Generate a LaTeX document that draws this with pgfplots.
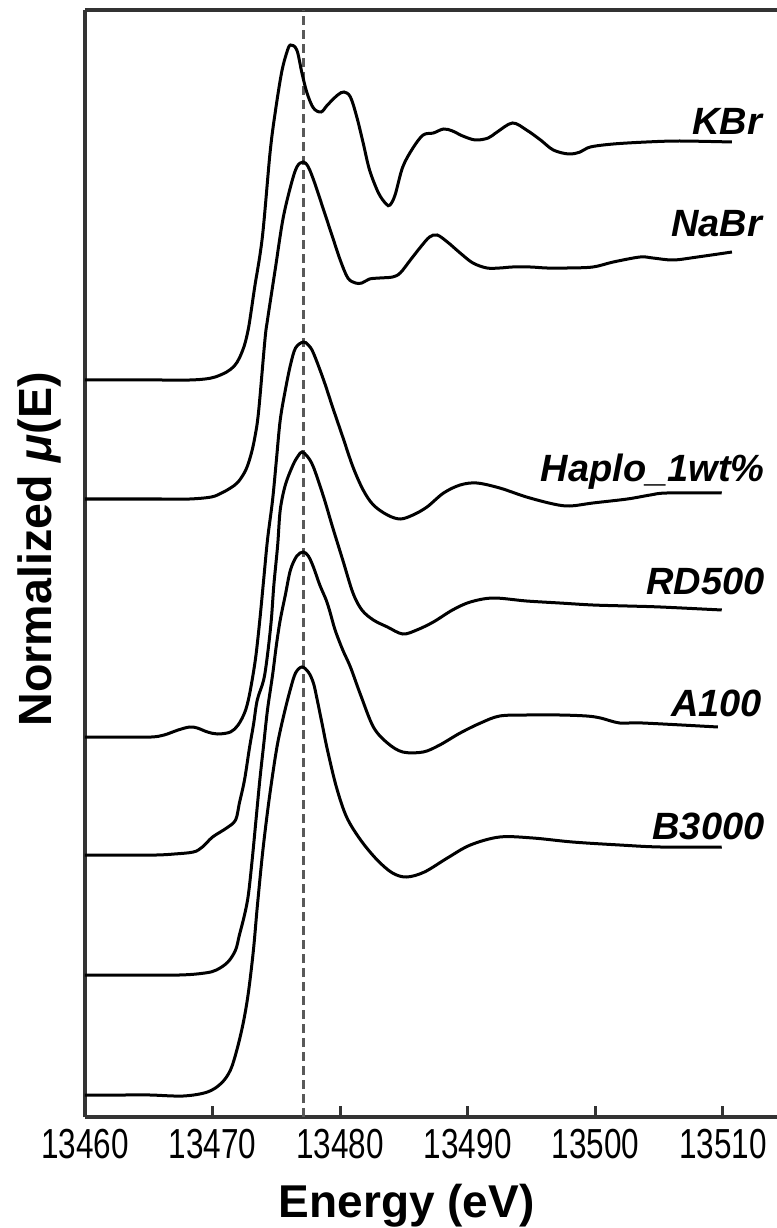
\documentclass[border=0pt]{standalone}
\usepackage{fontspec}
\setmainfont{Liberation Sans}
\newfontfamily\narrow[FakeStretch=0.75]{Liberation Sans}
\usepackage{pgfplots}
\pgfplotsset{compat=1.18}
\pgfplotsset{spec/.style={black, line width=1.5pt, mark=none, smooth, tension=0.55}}

% heights are offsets of the stacked spectra (arbitrary units)
\begin{document}
\begin{tikzpicture}
\path[use as bounding box] (-42.5pt,-55.5pt) rectangle (346pt,558.5pt);
\begin{axis}[
  at={(0,0)}, anchor=south west,
  scale only axis, width=346pt, height=553.5pt,
  xmin=13460, xmax=13514.23, ymin=0, ymax=1107,
  axis x line*=box, axis y line*=left,
  line width=1.6pt,
  axis line style={line width=1.6pt, black!80},
  every outer x axis line/.append style={line width=1.6pt, black!80},
  every outer y axis line/.append style={line width=1.6pt, black!80},
  xtick={13460,13470,...,13510}, xtick pos=bottom, ytick=\empty,
  scaled x ticks=false,
  tick align=inside, major tick length=5.5pt,
  xtick style={line width=1.5pt, black!80},
  major x tick style={line width=1.5pt, black!80},
  /pgf/number format/.cd, set thousands separator={}, assume math mode=true, /pgfplots/.cd,
  xticklabel style={font=\narrow\fontsize{21}{24}\selectfont, inner sep=0pt, yshift=-5.5pt},
  xlabel={Energy (eV)},
  every axis x label/.style={at={(rel axis cs:0.465,-0.0912)}, anchor=base,
    font=\bfseries\fontsize{23}{26}\selectfont},
  ylabel={Normalized \textit{μ}(E)},
  every axis y label/.style={at={(rel axis cs:-0.0665,0.513)}, anchor=center, rotate=90,
    font=\bfseries\fontsize{23.3}{26}\selectfont},
  clip=false,
]
\addplot[black!65, line width=1.3pt, dash pattern=on 4.5pt off 2.5pt, mark=none]
  coordinates {(13477.1,0) (13477.1,1107)};

% KBr
\addplot[spec] coordinates {
(13460.0,737) (13463.0,737) (13466.0,737) (13468.2,737) (13469.4,738) (13470.2,740) (13471.1,745)
(13471.7,751) (13472.1,759) (13472.5,772) (13472.8,788) (13473.0,804) (13473.3,830)
(13473.9,880) (13474.5,964) (13474.9,1004) (13475.4,1044) (13475.8,1064) (13476.1,1072)
(13476.6,1067) (13477.0,1044) (13477.4,1024) (13477.9,1009) (13478.5,1005) (13479.0,1012)
(13479.8,1022) (13480.3,1025) (13480.8,1020) (13481.3,1000) (13481.8,974) (13482.3,947)
(13483.0,924) (13483.6,913) (13483.9,912) (13484.3,922) (13484.9,950) (13485.7,969) (13486.5,982)
(13487.3,984) (13488.1,988) (13488.8,986) (13489.6,981) (13490.6,977) (13491.6,979)
(13492.3,985) (13493.5,994) (13494.6,987) (13495.7,977) (13496.7,967) (13497.9,963)
(13498.8,965) (13499.6,970) (13501.4,973) (13504.0,975) (13506.6,976) (13510.7,975)
};
% NaBr
\addplot[spec] coordinates {
(13460.0,618) (13463.0,618) (13466.0,618) (13468.2,618) (13469.9,620) (13470.7,624) (13471.4,629)
(13472.0,635) (13472.6,647) (13473.0,662) (13473.3,679) (13473.6,705) (13474.1,777) (13474.3,797)
(13474.9,847) (13475.5,897) (13476.1,930) (13476.6,950) (13477.1,955) (13477.5,950)
(13478.0,934) (13478.7,907) (13479.4,880) (13480.0,857) (13480.6,839) (13481.2,834)
(13481.7,834) (13482.3,838) (13483.1,839) (13484.1,840) (13484.7,844) (13485.5,857)
(13486.3,870) (13487.0,880) (13487.6,882) (13488.4,875) (13489.4,864) (13490.4,854)
(13491.5,849) (13492.5,849) (13493.5,850) (13494.9,850) (13496.2,849) (13497.8,849)
(13499.8,850) (13501.4,855) (13503.5,860) (13504.5,859) (13506.1,857) (13508.0,860)
(13510.7,865)
};
% Haplo_1wt%
\addplot[spec] coordinates {
(13460.0,380) (13463.0,380) (13465.2,380) (13466.2,382) (13467.3,387) (13468.2,390) (13468.8,389)
(13469.6,385) (13470.4,383) (13471.4,385) (13472.0,392) (13472.5,404) (13472.8,417)
(13473.1,437) (13473.4,462) (13473.7,497) (13474.0,537) (13474.3,577) (13474.7,617)
(13475.0,657) (13475.3,697) (13475.7,727) (13476.1,752) (13476.5,769) (13477.1,775)
(13477.5,772) (13477.9,764) (13478.7,737) (13479.4,710) (13480.2,680) (13481.0,650)
(13481.8,627) (13482.6,612) (13483.7,602) (13484.7,598) (13485.7,602) (13486.8,610)
(13488.1,624) (13489.4,632) (13490.7,634) (13492.5,629) (13494.6,620) (13496.7,613)
(13498.0,611) (13499.8,614) (13502.5,618) (13504.3,622) (13505.6,624) (13509.9,624)
};
% RD500
\addplot[spec] coordinates {
(13460.0,262) (13463.0,262) (13465.6,262) (13467.0,263) (13468.5,265) (13469.2,270) (13470.0,280)
(13471.1,289) (13471.8,297) (13472.1,314) (13472.5,337) (13472.9,370) (13473.2,392)
(13473.5,417) (13474.0,437) (13474.3,462) (13474.6,497) (13474.8,532) (13475.1,572)
(13475.3,607) (13475.7,632) (13476.3,652) (13476.7,661) (13477.0,665) (13477.4,661) (13477.9,650)
(13478.7,620) (13479.4,590) (13480.2,557) (13481.0,524) (13481.7,507) (13482.6,497)
(13483.7,490) (13484.9,483) (13486.0,487) (13487.3,495) (13488.8,507) (13490.2,515)
(13492.0,519) (13494.6,516) (13497.2,514) (13499.8,512) (13502.5,511) (13505.1,510)
(13509.9,507)
};
% A100
\addplot[spec] coordinates {
(13460.0,142) (13463.0,142) (13467.4,142) (13469.4,144) (13470.3,147) (13471.2,155) (13471.8,167)
(13472.1,182) (13472.5,202) (13472.8,222) (13473.1,257) (13473.4,297) (13473.7,337)
(13474.0,372) (13474.3,407) (13474.7,442) (13475.0,472) (13475.3,497) (13475.7,522)
(13476.1,547) (13476.6,561) (13477.1,565) (13477.5,561) (13477.9,550) (13478.4,532)
(13478.9,517) (13479.2,505) (13479.6,487) (13480.2,467) (13480.8,450) (13481.6,422)
(13482.6,390) (13483.7,374) (13484.9,365) (13486.5,365) (13487.8,372) (13489.4,384)
(13491.0,394) (13492.5,401) (13494.6,402) (13497.2,402) (13499.3,401) (13500.4,399)
(13501.9,394) (13503.7,394) (13509.6,390)
};
% B3000
\addplot[spec] coordinates {
(13460.0,22) (13463.0,22) (13465.1,22) (13467.7,21) (13469.6,25) (13470.7,34) (13471.4,47)
(13471.9,67) (13472.4,94) (13472.8,124) (13473.2,167) (13473.5,210) (13473.9,262)
(13474.3,305) (13474.7,342) (13475.1,374) (13475.6,403) (13476.1,428) (13476.5,444)
(13477.0,450) (13477.5,445) (13477.9,434) (13478.2,417) (13478.6,392) (13479.0,367)
(13479.7,330) (13480.5,300) (13481.6,277) (13482.9,257) (13484.1,244) (13485.2,240)
(13486.6,245) (13488.4,259) (13490.2,272) (13492.5,280) (13495.1,279) (13498.2,275)
(13501.9,272) (13505.1,270) (13509.9,270)
};

\begin{scope}[every node/.style={anchor=base east, font=\bfseries\itshape\fontsize{19}{21}\selectfont}]
\node at (axis cs:13513.7,982) {KBr};
\node at (axis cs:13513.7,880) {NaBr};
\node at (axis cs:13513.9,635) {Haplo\_1wt\%};
\node at (axis cs:13513.9,523) {RD500};
\node at (axis cs:13513.7,401) {A100};
\node at (axis cs:13513.9,278) {B3000};
\end{scope}
\end{axis}
\end{tikzpicture}
\end{document}
